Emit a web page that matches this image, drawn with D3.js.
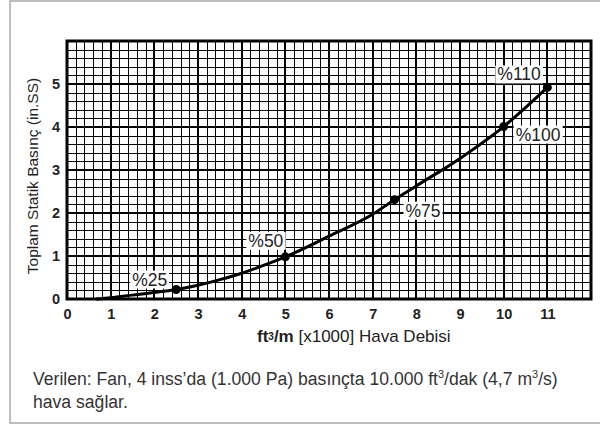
<!DOCTYPE html>
<html><head><meta charset="utf-8">
<script src="https://cdn.jsdelivr.net/npm/d3@7"></script>
<style>body{margin:0;background:#fff}svg{display:block;font-family:"Liberation Sans",Arial,sans-serif}</style>
</head><body>
<script>
// Data
const curveX = [0.68, 1, 1.5, 2, 2.5, 3, 3.5, 4, 4.5, 5, 6, 7, 7.5, 8, 9, 10, 10.5, 11];
const curveY = [0, 0.03, 0.09, 0.15, 0.22, 0.32, 0.45, 0.6, 0.78, 0.98, 1.46, 1.97, 2.31, 2.63, 3.27, 4.01, 4.45, 4.92];
const pointX = [2.5, 5, 7.5, 10, 11];
const pointY = [0.22, 0.98, 2.31, 4.01, 4.92];
const pointLabels = ["%25", "%50", "%75", "%100", "%110"];
const labelOffsets = [[-44, -4], [-37, -10], [11, 17], [12, 14], [-50, -7]];
const xTicks = [0,1,2,3,4,5,6,7,8,9,10,11];
const yTicks = [0,1,2,3,4,5];
const yTitle = "Toplam Statik Basınç (in.SS)";

const W = 600, H = 426;
const svg = d3.select("body").append("svg").attr("width", W).attr("height", H);

// outer frame
svg.append("rect").attr("x", 10).attr("y", 1).attr("width", 600).attr("height", 422)
  .attr("fill", "none").attr("stroke", "#a8a8a8").attr("stroke-width", 1.5);

const L = 67, R = 591, T = 41, B = 299;
const x = d3.scaleLinear().domain([0, 12]).range([L, R]);
const y = d3.scaleLinear().domain([0, 6]).range([B, T]);

const g = svg.append("g");
// minor grid
const minorX = d3.range(0, 60).map(i => i / 5).filter(v => v % 1 !== 0);
const minorY = d3.range(0, 30).map(i => i / 5).filter(v => v % 1 !== 0);
const snap = v => Math.round(v) + 0.5;
g.selectAll(".mx").data(minorX).join("line")
  .attr("x1", d => snap(x(d))).attr("x2", d => snap(x(d))).attr("y1", T).attr("y2", B)
  .attr("stroke", "#000").attr("stroke-width", 1);
g.selectAll(".my").data(minorY).join("line")
  .attr("y1", d => snap(y(d))).attr("y2", d => snap(y(d))).attr("x1", L).attr("x2", R)
  .attr("stroke", "#000").attr("stroke-width", 1);
// major grid
g.selectAll(".Mx").data(d3.range(1, 12)).join("line")
  .attr("x1", d => Math.round(x(d))).attr("x2", d => Math.round(x(d))).attr("y1", T).attr("y2", B)
  .attr("stroke", "#000").attr("stroke-width", 2);
g.selectAll(".My").data(d3.range(1, 6)).join("line")
  .attr("y1", d => Math.round(y(d))).attr("y2", d => Math.round(y(d))).attr("x1", L).attr("x2", R)
  .attr("stroke", "#000").attr("stroke-width", 2);
// border
g.append("rect").attr("x", L).attr("y", T).attr("width", R - L).attr("height", B - T)
  .attr("fill", "none").attr("stroke", "#000").attr("stroke-width", 3);

// axes
const xAxis = svg.append("g").attr("transform", `translate(0,${B})`)
  .call(d3.axisBottom(x).tickValues(xTicks).tickSize(0).tickPadding(10).tickFormat(d3.format("d")));
const yAxis = svg.append("g").attr("transform", `translate(${L},0)`)
  .call(d3.axisLeft(y).tickValues(yTicks).tickSize(0).tickPadding(7).tickFormat(d3.format("d")));
[xAxis, yAxis].forEach(a => {
  a.select(".domain").remove();
  a.selectAll("text").attr("font-family", "Liberation Sans, Arial, sans-serif")
    .attr("font-size", 14.5).attr("font-weight", "bold").attr("fill", "#222");
});

// curve
const line = d3.line().x((d, i) => x(curveX[i])).y((d, i) => y(curveY[i])).curve(d3.curveMonotoneX);
svg.append("path").datum(curveX).attr("d", line).attr("fill", "none")
  .attr("stroke", "#000").attr("stroke-width", 3).attr("stroke-linecap", "round");

// points
svg.selectAll(".pt").data(pointX).join("circle")
  .attr("cx", d => x(d)).attr("cy", (d, i) => y(pointY[i])).attr("r", 4.5).attr("fill", "#000");

// labels
pointLabels.forEach((lab, i) => {
  const px = x(pointX[i]) + labelOffsets[i][0], py = y(pointY[i]) + labelOffsets[i][1];
  const grp = svg.append("g");
  const t = grp.append("text").attr("x", px).attr("y", py).text(lab)
    .attr("font-size", 17.5).attr("fill", "#222");
  const bb = t.node().getBBox();
  grp.insert("rect", "text").attr("x", bb.x - 2).attr("y", bb.y + 1).attr("width", bb.width + 4)
    .attr("height", bb.height - 2).attr("fill", "#fff");
});

// x title
const xt = svg.append("text").attr("x", 257).attr("y", 342).attr("font-size", 17).attr("fill", "#222");
xt.append("tspan").attr("font-weight", "bold").text("ft");
xt.append("tspan").attr("font-weight", "bold").attr("font-size", 10).attr("dy", -2).text("3");
xt.append("tspan").attr("font-weight", "bold").attr("dy", 2).text("/m");
xt.append("tspan").text(" [x1000] Hava Debisi");

// y title
svg.append("text").attr("transform", `translate(38,176) rotate(-90)`).attr("text-anchor", "middle")
  .attr("font-size", 15.5).attr("fill", "#222").text(yTitle);

// caption
const cap = svg.append("text").attr("x", 33).attr("y", 385).attr("font-size", 17.6).attr("fill", "#333");
cap.append("tspan").text("Verilen: Fan, 4 inss\u2019da (1.000 Pa) basınçta 10.000 ft");
cap.append("tspan").attr("font-size", 11).attr("dy", -7).text("3");
cap.append("tspan").attr("dy", 7).text("/dak (4,7 m");
cap.append("tspan").attr("font-size", 11).attr("dy", -7).text("3");
cap.append("tspan").attr("dy", 7).text("/s)");
svg.append("text").attr("x", 33).attr("y", 408).attr("font-size", 17.6).attr("fill", "#333").text("hava sağlar.");
</script>
</body></html>
